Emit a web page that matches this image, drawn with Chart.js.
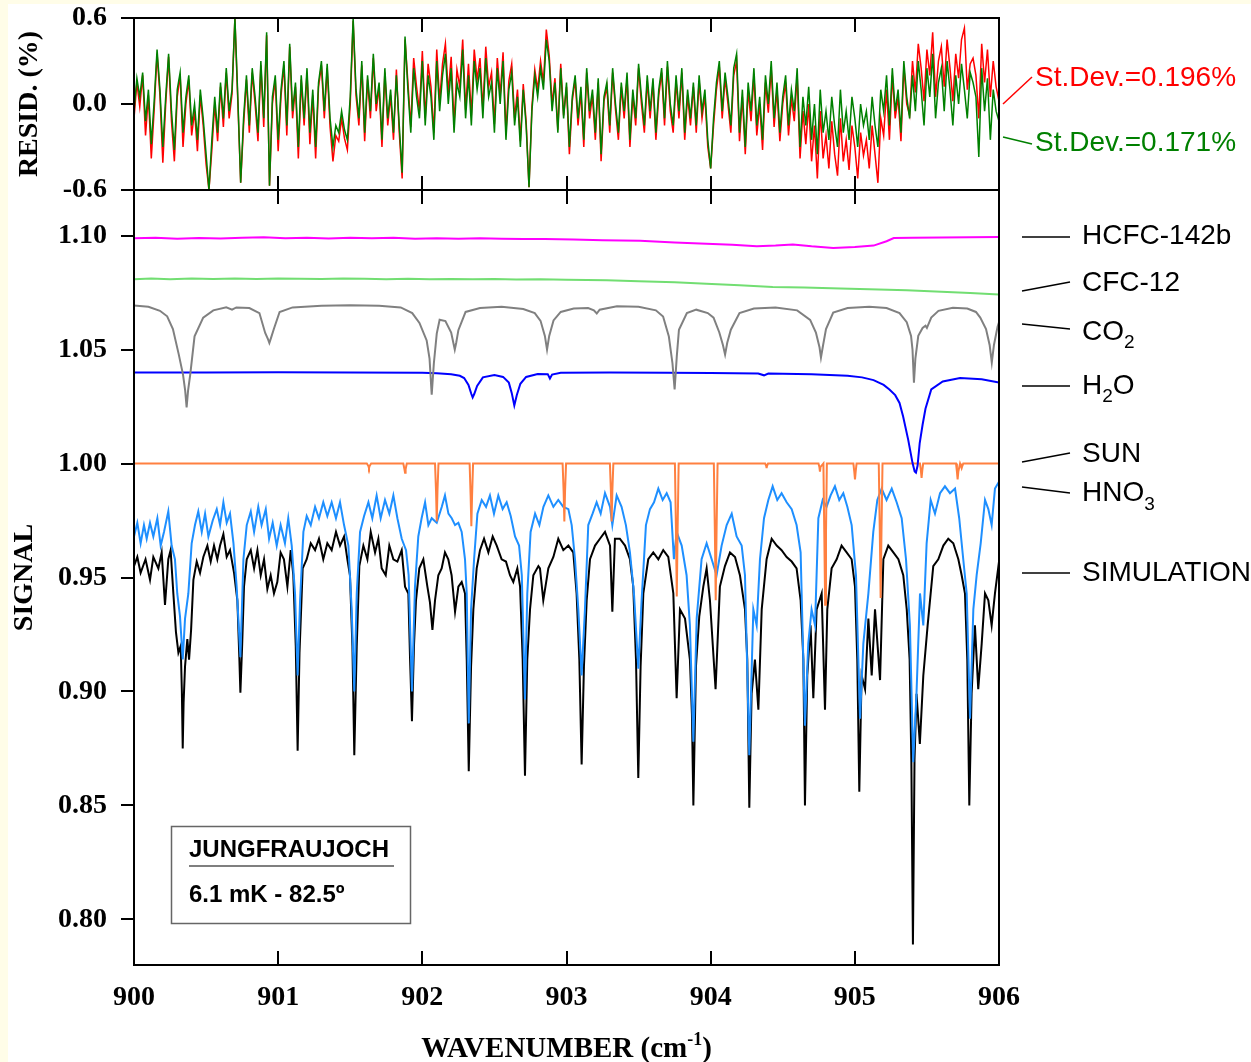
<!DOCTYPE html>
<html lang="en">
<head>
<meta charset="UTF-8">
<title>Jungfraujoch spectral fit 900-906 cm-1</title>
<script src="https://cdn.jsdelivr.net/npm/chart.js"></script>
<style>
  html, body { margin: 0; padding: 0; background: #fffde8; }
  #page { position: relative; width: 1251px; height: 1062px; overflow: hidden; }
  #sheet { position: absolute; left: 8px; top: 4px; right: 0; bottom: 0; background: #fff; }
  canvas { position: absolute; left: 0; top: 0; }
</style>
</head>
<body>
<div id="page">
  <div id="sheet"></div>
  <canvas id="sigChart" width="1251" height="1062"></canvas>
  <canvas id="resChart" width="1251" height="1062"></canvas>
</div>
<script>
// axes
const xMin = 900, xMax = 906;
const xTicks = [900, 901, 902, 903, 904, 905, 906];
const residTicks = [-0.6, 0.0, 0.6];
const signalTicks = [0.80, 0.85, 0.90, 0.95, 1.00, 1.05, 1.10];

// residuals (%), one value every 0.02 cm-1 starting at 900
const residStart = 900, residStep = 0.02;
const residRed = [
  -0.10, 0.15, -0.02, 0.20, -0.22, 0.06, -0.38, -0.04, 0.35, 0.06, -0.41, 0.00, 0.33, -0.12, -0.40,
  0.05, 0.20, -0.30, 0.00, 0.17, -0.22, -0.05, -0.33, 0.06, -0.15, -0.42, -0.60, -0.32, 0.00, -0.26,
  0.12, -0.16, 0.22, -0.10, 0.07, 0.60, 0.02, -0.55, -0.15, 0.17, -0.20, 0.22, 0.00, -0.26, 0.27,
  -0.16, 0.48, -0.57, 0.00, 0.17, -0.33, 0.06, 0.27, -0.22, 0.40, -0.10, 0.12, -0.38, 0.17, -0.15,
  0.22, -0.28, 0.06, -0.38, 0.12, 0.27, -0.10, 0.25, -0.16, -0.40, -0.22, -0.26, -0.10, -0.24, -0.32,
  0.00, 0.58, 0.06, -0.15, 0.27, -0.26, 0.17, -0.10, 0.32, -0.05, 0.12, -0.30, 0.22, -0.15, 0.06,
  -0.25, 0.24, -0.20, -0.52, 0.45, 0.15, -0.16, 0.32, 0.12, -0.05, 0.37, -0.10, 0.28, 0.12, -0.20,
  0.38, 0.02, 0.28, 0.42, 0.08, 0.33, -0.14, 0.24, 0.12, 0.45, -0.04, 0.28, -0.08, 0.38, 0.17,
  0.32, -0.04, 0.40, 0.12, 0.22, -0.14, 0.32, 0.06, 0.36, -0.20, 0.16, 0.28, -0.10, 0.10, -0.26,
  0.14, -0.12, -0.58, -0.02, 0.24, 0.10, 0.30, 0.15, 0.52, 0.34, 0.00, 0.18, -0.18, 0.28, -0.08,
  0.12, -0.35, 0.02, 0.17, -0.15, 0.08, -0.30, 0.22, -0.10, 0.06, -0.25, 0.15, -0.40, 0.02, 0.12,
  -0.20, 0.22, -0.04, -0.25, 0.12, -0.10, 0.18, -0.30, 0.06, -0.15, 0.25, 0.00, -0.20, 0.16, -0.10,
  0.15, -0.25, 0.06, 0.22, -0.15, 0.26, -0.05, -0.20, 0.16, -0.10, 0.22, -0.25, 0.06, -0.15, 0.12,
  -0.20, 0.16, -0.10, 0.06, -0.30, -0.45, -0.15, 0.10, 0.26, -0.10, 0.18, 0.00, -0.20, 0.20, 0.30,
  -0.26, 0.05, -0.35, 0.10, -0.12, 0.20, -0.22, 0.00, -0.32, 0.15, -0.06, 0.25, -0.16, 0.10, -0.26,
  0.00, 0.15, -0.22, 0.04, -0.12, 0.20, -0.38, -0.05, -0.28, 0.00, -0.40, -0.15, -0.52, -0.05, -0.38,
  -0.22, -0.45, -0.12, -0.35, -0.50, -0.10, -0.40, -0.25, -0.46, -0.15, -0.30, -0.52, -0.20, -0.36, -0.25,
  -0.45, -0.15, -0.35, -0.55, -0.10, -0.22, 0.10, -0.25, 0.20, -0.10, 0.05, -0.26, 0.26, 0.00, -0.08,
  0.30, 0.08, 0.42, 0.25, 0.02, 0.38, 0.20, 0.50, 0.05, 0.30, 0.40, 0.12, 0.45, 0.25, 0.02,
  0.35, 0.18, 0.45, 0.53, 0.10, 0.28, 0.32, 0.20, -0.10, 0.42, 0.15, 0.38, 0.05, 0.30, 0.12, 0.02
];
const residGreen = [
  -0.05, 0.18, 0.05, 0.22, -0.12, 0.10, -0.28, 0.02, 0.38, 0.10, -0.30, 0.05, 0.35, -0.05, -0.32,
  0.10, 0.22, -0.20, 0.05, 0.20, -0.15, 0.00, -0.25, 0.10, -0.10, -0.35, -0.60, -0.25, 0.05, -0.20,
  0.15, -0.10, 0.25, -0.05, 0.10, 0.60, 0.05, -0.55, -0.10, 0.20, -0.15, 0.25, 0.05, -0.20, 0.30,
  -0.10, 0.50, -0.57, 0.05, 0.20, -0.25, 0.10, 0.30, -0.15, 0.42, -0.05, 0.15, -0.30, 0.20, -0.10,
  0.25, -0.20, 0.10, -0.30, 0.15, 0.30, -0.05, 0.28, -0.10, -0.30, -0.15, -0.20, -0.05, -0.18, -0.25,
  0.05, 0.60, 0.10, -0.10, 0.30, -0.20, 0.20, -0.05, 0.35, 0.00, 0.15, -0.25, 0.25, -0.10, 0.10,
  -0.20, 0.20, -0.15, -0.48, 0.47, 0.10, -0.20, 0.25, 0.05, -0.10, 0.30, -0.15, 0.20, 0.05, -0.25,
  0.30, -0.05, 0.20, 0.35, 0.00, 0.25, -0.20, 0.15, 0.05, 0.38, -0.10, 0.20, -0.15, 0.30, 0.10,
  0.25, -0.10, 0.32, 0.05, 0.15, -0.20, 0.25, 0.00, 0.30, -0.25, 0.10, 0.22, -0.15, 0.05, -0.30,
  0.10, -0.15, -0.58, -0.05, 0.20, 0.05, 0.25, 0.10, 0.45, 0.30, -0.05, 0.15, -0.20, 0.25, -0.10,
  0.15, -0.30, 0.05, 0.20, -0.10, 0.12, -0.25, 0.25, -0.05, 0.10, -0.20, 0.18, -0.35, 0.05, 0.15,
  -0.15, 0.25, 0.00, -0.20, 0.15, -0.05, 0.22, -0.25, 0.10, -0.10, 0.28, 0.05, -0.15, 0.20, -0.05,
  0.18, -0.20, 0.10, 0.25, -0.10, 0.30, 0.00, -0.15, 0.20, -0.05, 0.25, -0.20, 0.10, -0.10, 0.15,
  -0.15, 0.20, -0.05, 0.10, -0.25, -0.45, -0.10, 0.15, 0.30, -0.05, 0.22, 0.05, -0.15, 0.25, 0.35,
  -0.20, 0.10, -0.30, 0.15, -0.05, 0.25, -0.15, 0.05, -0.25, 0.20, 0.00, 0.30, -0.10, 0.15, -0.20,
  0.05, 0.20, -0.15, 0.10, -0.05, 0.25, -0.30, 0.05, -0.15, 0.12, -0.25, 0.00, -0.35, 0.10, -0.20,
  -0.05, -0.25, 0.05, -0.15, -0.30, 0.10, -0.20, -0.05, -0.25, 0.05, -0.10, -0.30, 0.00, -0.15, -0.05,
  -0.25, 0.05, -0.15, -0.30, 0.10, -0.05, 0.20, -0.15, 0.25, -0.05, 0.10, -0.20, 0.30, 0.05, -0.10,
  0.20, -0.05, 0.30, 0.10, -0.15, 0.25, 0.05, 0.35, -0.10, 0.15, 0.25, -0.05, 0.30, 0.10, -0.15,
  0.20, 0.00, 0.28, 0.10, -0.10, 0.22, 0.15, 0.05, -0.37, 0.25, -0.05, 0.18, -0.25, 0.10, -0.05, -0.12
];

// model components, [wavenumber, signal]
const hcfc142b = [
  [900.00,1.0988],[900.15,1.0990],[900.30,1.0986],[900.45,1.0989],[900.60,1.0987],[900.75,1.0990],
  [900.90,1.0993],[901.05,1.0988],[901.20,1.0990],[901.35,1.0987],[901.50,1.0990],[901.65,1.0988],
  [901.80,1.0990],[901.95,1.0986],[902.10,1.0988],[902.25,1.0986],[902.40,1.0988],[902.55,1.0986],
  [902.70,1.0985],[902.85,1.0985],[903.05,1.0983],[903.25,1.0980],[903.51,1.0977],[903.75,1.0970],
  [903.97,1.0964],[904.15,1.0960],[904.32,1.0953],[904.45,1.0956],[904.57,1.0961],[904.70,1.0953],
  [904.85,1.0946],[905.00,1.0950],[905.13,1.0956],[905.22,1.0975],[905.27,1.0989],[905.40,1.0991],
  [905.60,1.0992],[905.80,1.0993],[906.00,1.0994]
];
const cfc12 = [
  [900.00,1.0808],[900.12,1.0812],[900.25,1.0809],[900.40,1.0812],[900.55,1.0810],[900.70,1.0812],
  [900.85,1.0810],[901.00,1.0812],[901.15,1.0811],[901.30,1.0810],[901.45,1.0812],[901.60,1.0811],
  [901.75,1.0809],[901.90,1.0811],[902.05,1.0808],[902.20,1.0810],[902.35,1.0808],[902.50,1.0809],
  [902.65,1.0807],[902.82,1.0808],[903.00,1.0806],[903.28,1.0804],[903.50,1.0800],[903.75,1.0795],
  [903.97,1.0789],[904.20,1.0782],[904.43,1.0774],[904.65,1.0772],[904.90,1.0768],[905.10,1.0765],
  [905.36,1.0760],[905.60,1.0754],[905.80,1.0748],[906.00,1.0741]
];
const co2 = [
  [900.00,1.0693],[900.10,1.0688],[900.18,1.0670],[900.23,1.0646],[900.27,1.0590],[900.31,1.0480],
  [900.34,1.0390],[900.355,1.0320],[900.365,1.0246],[900.375,1.0320],[900.39,1.0390],[900.42,1.0558],
  [900.48,1.0640],[900.55,1.0672],[900.64,1.0685],[900.68,1.0675],[900.71,1.0685],[900.80,1.0682],
  [900.87,1.0660],[900.91,1.0573],[900.93,1.0545],[900.939,1.0529],[900.95,1.0550],[900.97,1.0590],
  [901.01,1.0665],[901.10,1.0685],[901.30,1.0692],[901.50,1.0694],[901.70,1.0692],[901.85,1.0685],
  [901.93,1.0660],[901.98,1.0617],[902.03,1.0540],[902.05,1.0460],[902.065,1.0302],[902.08,1.0440],
  [902.10,1.0570],[902.12,1.0631],[902.16,1.0625],[902.20,1.0575],[902.215,1.0530],[902.225,1.0500],
  [902.235,1.0530],[902.25,1.0585],[902.30,1.0665],[902.40,1.0682],[902.55,1.0688],[902.70,1.0678],
  [902.78,1.0660],[902.82,1.0626],[902.85,1.0560],[902.865,1.0500],[902.88,1.0560],[902.91,1.0628],
  [902.96,1.0665],[903.05,1.0680],[903.15,1.0682],[903.19,1.0672],[903.21,1.0658],[903.23,1.0675],
  [903.35,1.0690],[903.50,1.0688],[903.62,1.0672],[903.67,1.0645],[903.71,1.0557],[903.735,1.0440],
  [903.75,1.0325],[903.765,1.0470],[903.78,1.0587],[903.835,1.0660],[903.90,1.0675],[903.98,1.0660],
  [904.02,1.0640],[904.06,1.0575],[904.085,1.0520],[904.10,1.0478],[904.115,1.0530],[904.14,1.0587],
  [904.20,1.0660],[904.30,1.0680],[904.45,1.0684],[904.60,1.0672],[904.69,1.0630],[904.73,1.0575],
  [904.755,1.0510],[904.765,1.0465],[904.78,1.0520],[904.80,1.0590],[904.85,1.0662],[904.95,1.0682],
  [905.10,1.0688],[905.22,1.0682],[905.31,1.0660],[905.36,1.0620],[905.39,1.0560],[905.40,1.0500],
  [905.41,1.0355],[905.42,1.0460],[905.44,1.0560],[905.47,1.0595],[905.49,1.0605],[905.50,1.0595],
  [905.53,1.0640],[905.58,1.0670],[905.68,1.0683],[905.78,1.0680],[905.84,1.0665],[905.87,1.0640],
  [905.91,1.0590],[905.935,1.0520],[905.95,1.0443],[905.965,1.0520],[905.99,1.0600],[906.00,1.0620]
];
const h2o = [
  [900.00,1.0399],[900.50,1.0399],[901.00,1.0400],[901.50,1.0399],[902.00,1.0398],[902.10,1.0396],
  [902.20,1.0392],[902.26,1.0385],[902.29,1.0375],[902.32,1.0345],[902.34,1.0305],[902.349,1.0290],
  [902.36,1.0305],[902.38,1.0340],[902.42,1.0378],[902.50,1.0388],[902.56,1.0380],[902.60,1.0355],
  [902.62,1.0310],[902.638,1.0255],[902.655,1.0300],[902.68,1.0350],[902.72,1.0380],[902.80,1.0393],
  [902.87,1.0392],[902.885,1.0373],[902.90,1.0390],[902.96,1.0398],[903.30,1.0399],[903.70,1.0398],
  [904.00,1.0397],[904.33,1.0395],[904.37,1.0387],[904.40,1.0395],[904.70,1.0392],[904.95,1.0385],
  [905.05,1.0378],[905.13,1.0366],[905.20,1.0345],[905.24,1.0325],[905.28,1.0300],[905.31,1.0266],
  [905.335,1.0206],[905.37,1.0105],[905.40,1.0003],[905.415,0.9965],[905.424,0.9960],[905.435,0.9990],
  [905.45,1.0090],[905.47,1.0170],[905.49,1.0240],[905.53,1.0325],[905.61,1.0360],[905.73,1.0375],
  [905.88,1.0370],[906.00,1.0355]
];
const sun = [
  [900.00,1.0000],[901.615,1.0000],[901.625,0.9990],[901.63,0.9980],[901.635,0.9990],[901.645,1.0000],
  [901.868,1.0000],[901.876,0.9975],[901.88,0.9960],[901.884,0.9975],[901.892,1.0000],
  [902.088,1.0000],[902.095,0.9880],[902.10,0.9746],[902.105,0.9880],[902.112,1.0000],
  [902.328,1.0000],[902.335,0.9860],[902.34,0.9725],[902.345,0.9860],[902.352,1.0000],
  [902.973,1.0000],[902.98,0.9880],[902.985,0.9746],[902.99,0.9880],[902.997,1.0000],
  [903.301,1.0000],[903.308,0.9880],[903.313,0.9746],[903.318,0.9880],[903.325,1.0000],
  [903.752,1.0000],[903.759,0.9720],[903.765,0.9417],[903.771,0.9720],[903.778,1.0000],
  [904.022,1.0000],[904.029,0.9710],[904.035,0.9400],[904.041,0.9710],[904.048,1.0000],
  [904.378,1.0000],[904.385,0.9990],[904.388,0.9980],[904.391,0.9990],[904.398,1.0000],
  [904.748,1.0000],[904.754,0.9985],[904.758,0.9965],[904.762,0.9985],[904.782,1.0000],
  [904.788,0.9700],[904.794,0.9380],[904.800,0.9700],[904.806,1.0000],
  [904.990,1.0000],[904.996,0.9965],[905.001,0.9930],[905.006,0.9965],[905.012,1.0000],
  [905.166,1.0000],[905.173,0.9710],[905.179,0.9410],[905.185,0.9710],[905.192,1.0000],
  [905.452,1.0000],[905.458,0.9970],[905.463,0.9937],[905.468,0.9970],[905.474,1.0000],
  [905.702,1.0000],[905.708,0.9965],[905.713,0.9930],[905.718,0.9965],[905.730,1.0000],
  [905.736,0.9990],[905.741,0.9980],[905.746,0.9990],[905.752,1.0000],[906.00,1.0000]
];
const hno3 = [
  [900.00,0.968],[900.023,0.974],[900.046,0.965],[900.069,0.973],[900.088,0.967],[900.111,0.974],
  [900.134,0.968],[900.162,0.976],[900.185,0.964],[900.208,0.970],[900.238,0.979],[900.261,0.964],
  [900.284,0.958],[900.30,0.943],[900.319,0.933],[900.338,0.914],[900.354,0.932],[900.377,0.943],
  [900.40,0.965],[900.423,0.973],[900.446,0.979],[900.47,0.970],[900.493,0.978],[900.516,0.968],
  [900.546,0.975],[900.574,0.980],[900.597,0.973],[900.62,0.983],[900.643,0.974],[900.666,0.978],
  [900.69,0.965],[900.712,0.946],[900.738,0.915],[900.759,0.958],[900.782,0.973],[900.81,0.979],
  [900.833,0.970],[900.862,0.981],[900.885,0.973],[900.914,0.980],[900.937,0.967],[900.962,0.974],
  [900.99,0.964],[901.017,0.973],[901.047,0.965],[901.07,0.976],[901.094,0.964],[901.117,0.943],
  [901.135,0.907],[901.152,0.940],[901.175,0.970],[901.198,0.977],[901.226,0.973],[901.256,0.981],
  [901.283,0.976],[901.313,0.983],[901.341,0.977],[901.371,0.983],[901.401,0.976],[901.429,0.983],
  [901.457,0.973],[901.487,0.964],[901.51,0.936],[901.528,0.900],[901.545,0.943],[901.568,0.970],
  [901.596,0.977],[901.626,0.983],[901.653,0.976],[901.683,0.986],[901.711,0.976],[901.741,0.984],
  [901.771,0.978],[901.799,0.986],[901.827,0.976],[901.857,0.967],[901.887,0.962],[901.905,0.951],
  [901.928,0.900],[901.949,0.946],[901.972,0.968],[901.995,0.976],[902.019,0.983],[902.042,0.973],
  [902.065,0.976],[902.10,0.974],[902.135,0.981],[902.157,0.986],[902.181,0.978],[902.204,0.976],
  [902.227,0.973],[902.25,0.974],[902.273,0.970],[902.296,0.958],[902.308,0.943],[902.322,0.886],
  [902.338,0.936],[902.359,0.958],[902.382,0.978],[902.412,0.984],[902.442,0.981],[902.469,0.986],
  [902.497,0.978],[902.527,0.986],[902.557,0.980],[902.585,0.983],[902.613,0.977],[902.643,0.968],
  [902.671,0.964],[902.69,0.951],[902.712,0.8965],[902.728,0.943],[902.751,0.970],[902.782,0.978],
  [902.812,0.973],[902.84,0.981],[902.874,0.986],[902.909,0.981],[902.943,0.984],[902.978,0.981],
  [903.013,0.980],[903.036,0.973],[903.059,0.958],[903.082,0.936],[903.105,0.907],[903.128,0.936],
  [903.151,0.973],[903.181,0.978],[903.209,0.983],[903.237,0.978],[903.267,0.987],[903.302,0.981],
  [903.318,0.973],[903.348,0.986],[903.382,0.981],[903.412,0.973],[903.44,0.961],[903.468,0.943],
  [903.498,0.910],[903.521,0.940],[903.551,0.973],[903.579,0.980],[903.607,0.983],[903.637,0.989],
  [903.667,0.984],[903.695,0.987],[903.722,0.983],[903.745,0.958],[903.764,0.970],[903.799,0.964],
  [903.833,0.951],[903.856,0.929],[903.880,0.878],[903.903,0.932],[903.937,0.958],[903.972,0.965],
  [904.007,0.958],[904.041,0.951],[904.076,0.964],[904.111,0.973],[904.146,0.978],[904.18,0.968],
  [904.215,0.964],[904.238,0.951],[904.268,0.872],[904.296,0.936],[904.319,0.929],[904.342,0.958],
  [904.37,0.976],[904.40,0.984],[904.43,0.990],[904.462,0.984],[904.492,0.987],[904.527,0.983],
  [904.562,0.980],[904.596,0.973],[904.624,0.961],[904.654,0.885],[904.677,0.921],[904.70,0.936],
  [904.724,0.929],[904.747,0.976],[904.777,0.984],[904.804,0.981],[904.832,0.986],[904.862,0.990],
  [904.892,0.984],[904.92,0.987],[904.948,0.981],[904.978,0.973],[905.008,0.951],[905.036,0.888],
  [905.059,0.921],[905.094,0.943],[905.128,0.970],[905.156,0.984],[905.186,0.989],[905.22,0.984],
  [905.256,0.989],[905.29,0.983],[905.325,0.976],[905.355,0.958],[905.382,0.929],[905.405,0.869],
  [905.428,0.8995],[905.452,0.943],[905.475,0.929],[905.498,0.965],[905.526,0.984],[905.556,0.978],
  [905.591,0.987],[905.625,0.990],[905.66,0.987],[905.695,0.989],[905.724,0.976],[905.752,0.958],
  [905.776,0.943],[905.799,0.888],[905.822,0.936],[905.845,0.951],[905.873,0.965],[905.903,0.984],
  [905.926,0.980],[905.949,0.973],[905.972,0.989],[906.00,0.992]
];
const simulation = [
  [900.00,0.955],[900.023,0.959],[900.046,0.952],[900.08,0.958],[900.111,0.949],[900.134,0.959],
  [900.169,0.954],[900.192,0.961],[900.215,0.938],[900.238,0.958],[900.254,0.962],[900.273,0.943],
  [900.291,0.926],[900.308,0.917],[900.324,0.920],[900.332,0.900],[900.338,0.875],[900.344,0.895],
  [900.354,0.911],[900.37,0.923],[900.382,0.914],[900.396,0.927],[900.412,0.949],[900.435,0.957],
  [900.458,0.952],[900.481,0.959],[900.509,0.964],[900.532,0.957],[900.555,0.964],[900.578,0.958],
  [900.597,0.964],[900.62,0.969],[900.643,0.959],[900.666,0.962],[900.694,0.952],[900.717,0.940],
  [900.731,0.914],[900.738,0.8995],[900.75,0.920],[900.763,0.946],[900.782,0.958],[900.81,0.962],
  [900.833,0.954],[900.856,0.962],[900.879,0.951],[900.902,0.958],[900.925,0.945],[900.948,0.951],
  [900.971,0.943],[900.994,0.948],[901.017,0.961],[901.04,0.958],[901.064,0.946],[901.087,0.962],
  [901.105,0.951],[901.122,0.920],[901.135,0.874],[901.148,0.917],[901.17,0.954],[901.198,0.958],
  [901.226,0.965],[901.256,0.962],[901.283,0.967],[901.313,0.958],[901.341,0.965],[901.371,0.962],
  [901.401,0.970],[901.429,0.964],[901.457,0.968],[901.48,0.958],[901.498,0.951],[901.515,0.920],
  [901.528,0.872],[901.545,0.920],[901.563,0.955],[901.591,0.964],[901.619,0.958],[901.642,0.970],
  [901.672,0.961],[901.695,0.967],[901.718,0.954],[901.746,0.951],[901.771,0.964],[901.799,0.958],
  [901.827,0.957],[901.857,0.962],[901.88,0.946],[901.903,0.943],[901.915,0.914],[901.928,0.887],
  [901.942,0.920],[901.956,0.940],[901.979,0.954],[902.007,0.958],[902.035,0.946],[902.053,0.939],
  [902.07,0.927],[902.088,0.940],[902.111,0.951],[902.134,0.954],[902.157,0.961],[902.18,0.958],
  [902.203,0.951],[902.227,0.935],[902.25,0.946],[902.273,0.948],[902.296,0.943],[902.308,0.914],
  [902.322,0.865],[902.338,0.911],[902.354,0.936],[902.377,0.954],[902.40,0.962],[902.428,0.967],
  [902.458,0.961],[902.488,0.968],[902.516,0.964],[902.55,0.958],[902.58,0.957],[902.608,0.951],
  [902.631,0.948],[902.659,0.954],[902.678,0.946],[902.696,0.914],[902.712,0.863],[902.728,0.914],
  [902.747,0.936],[902.77,0.951],[902.805,0.955],[902.816,0.954],[902.839,0.940],[902.874,0.954],
  [902.909,0.959],[902.943,0.967],[902.978,0.962],[903.013,0.964],[903.047,0.961],[903.07,0.943],
  [903.089,0.914],[903.105,0.868],[903.121,0.911],[903.14,0.940],[903.163,0.958],[903.198,0.964],
  [903.232,0.967],[903.267,0.970],[903.302,0.964],[903.318,0.935],[903.336,0.967],[903.37,0.967],
  [903.406,0.964],[903.44,0.958],[903.463,0.946],[903.482,0.914],[903.498,0.862],[903.514,0.911],
  [903.533,0.943],[903.567,0.958],[903.602,0.961],[903.637,0.958],[903.671,0.962],[903.706,0.959],
  [903.741,0.943],[903.764,0.897],[903.787,0.936],[903.822,0.932],[903.856,0.914],[903.87,0.890],
  [903.88,0.850],[903.898,0.911],[903.921,0.933],[903.949,0.946],[903.972,0.954],[903.995,0.940],
  [904.034,0.901],[904.064,0.946],[904.099,0.955],[904.134,0.961],[904.169,0.959],[904.203,0.951],
  [904.238,0.936],[904.254,0.914],[904.268,0.849],[904.284,0.899],[904.307,0.914],[904.331,0.892],
  [904.354,0.936],[904.388,0.958],[904.423,0.967],[904.458,0.964],[904.492,0.962],[904.527,0.959],
  [904.562,0.957],[904.596,0.954],[904.624,0.940],[904.643,0.914],[904.654,0.850],[904.67,0.907],
  [904.693,0.929],[904.712,0.897],[904.735,0.936],[904.77,0.943],[904.793,0.892],[904.809,0.936],
  [904.839,0.954],[904.874,0.958],[904.908,0.964],[904.943,0.961],[904.978,0.958],[905.001,0.946],
  [905.017,0.914],[905.031,0.856],[905.047,0.907],[905.071,0.901],[905.094,0.932],[905.117,0.907],
  [905.14,0.936],[905.175,0.905],[905.198,0.958],[905.232,0.964],[905.267,0.961],[905.302,0.958],
  [905.336,0.951],[905.36,0.936],[905.38,0.914],[905.392,0.870],[905.403,0.789],[905.414,0.870],
  [905.428,0.899],[905.451,0.877],[905.475,0.907],[905.505,0.929],[905.544,0.955],[905.579,0.958],
  [905.614,0.964],[905.648,0.967],[905.683,0.965],[905.718,0.958],[905.741,0.951],[905.764,0.943],
  [905.78,0.914],[905.794,0.850],[905.81,0.899],[905.833,0.929],[905.856,0.901],[905.88,0.921],
  [905.903,0.943],[905.926,0.940],[905.949,0.929],[905.972,0.943],[906.00,0.957]
];

const SERIF = '"Liberation Serif", "Times New Roman", serif';
const SANS = '"Liberation Sans", Arial, sans-serif';

const toXY = pts => pts.map(p => ({ x: p[0], y: p[1] }));
const residXY = vals => vals.map((v, i) => ({ x: residStart + i * residStep, y: v }));

function series(label, data, color, order, width) {
  return { label, data, borderColor: color, borderWidth: width || 2, pointRadius: 0,
           tension: 0, fill: false, order };
}

// text made of pieces; each piece is [text, dy] with dy != 0 for sub/superscripts
function richText(ctx, parts, x, y, base, small, centered) {
  const widths = parts.map(([t, dy]) => { ctx.font = dy ? small : base; return ctx.measureText(t).width; });
  const total = widths.reduce((a, b) => a + b, 0);
  let cx = centered ? x - total / 2 : x;
  parts.forEach(([t, dy], i) => {
    ctx.font = dy ? small : base;
    ctx.fillText(t, cx, y + dy);
    cx += widths[i];
  });
}

function segment(ctx, a, b) {
  ctx.beginPath();
  ctx.moveTo(a[0], a[1]);
  ctx.lineTo(b[0], b[1]);
  ctx.stroke();
}

// box round the plot area plus the inward ticks on top and bottom
function drawFrame(chart) {
  const { ctx, chartArea: a } = chart;
  const xs = chart.scales.x;
  ctx.save();
  ctx.strokeStyle = '#000';
  ctx.lineWidth = 2;
  ctx.strokeRect(a.left, a.top, a.right - a.left, a.bottom - a.top);
  ctx.beginPath();
  xTicks.forEach(v => {
    if (v <= xMin || v >= xMax) return;
    const px = Math.round(xs.getPixelForValue(v));
    ctx.moveTo(px, a.top); ctx.lineTo(px, a.top + 14);
    ctx.moveTo(px, a.bottom); ctx.lineTo(px, a.bottom - 14);
  });
  ctx.stroke();
  ctx.restore();
}

// y axes keep a fixed width and do not push the plot area around
function fixYAxis(s) {
  s.width = 134;
  s.paddingTop = 0;
  s.paddingBottom = 0;
}

const residDecor = {
  id: 'residDecor',
  afterDraw(chart) {
    drawFrame(chart);
    const ctx = chart.ctx;
    ctx.save();
    ctx.lineWidth = 1.5;
    ctx.textBaseline = 'middle';
    ctx.textAlign = 'left';
    ctx.font = '28px ' + SANS;
    ctx.strokeStyle = '#ff0000';
    ctx.fillStyle = '#ff0000';
    segment(ctx, [1003, 104], [1032, 77]);
    ctx.fillText('St.Dev.=0.196%', 1035, 78);
    ctx.strokeStyle = '#008000';
    ctx.fillStyle = '#008000';
    segment(ctx, [1003, 137], [1032, 144]);
    ctx.fillText('St.Dev.=0.171%', 1035, 143);
    ctx.restore();
  }
};

const legendItems = [
  { parts: [['HCFC-142b', 0]], y: 236, from: [1022, 237], to: [1070, 237] },
  { parts: [['CFC-12', 0]], y: 283, from: [1022, 291], to: [1070, 282] },
  { parts: [['CO', 0], ['2', 11]], y: 332, from: [1022, 324], to: [1070, 329] },
  { parts: [['H', 0], ['2', 11], ['O', 0]], y: 386, from: [1022, 386], to: [1070, 386] },
  { parts: [['SUN', 0]], y: 454, from: [1022, 462], to: [1070, 453] },
  { parts: [['HNO', 0], ['3', 12]], y: 493, from: [1022, 487], to: [1070, 493] },
  { parts: [['SIMULATION', 0]], y: 573, from: [1022, 573], to: [1070, 573] }
];

const signalDecor = {
  id: 'signalDecor',
  afterDraw(chart) {
    drawFrame(chart);
    const ctx = chart.ctx;
    ctx.save();
    // labels of the components
    ctx.strokeStyle = '#000';
    ctx.fillStyle = '#000';
    ctx.lineWidth = 1.5;
    ctx.textBaseline = 'middle';
    ctx.textAlign = 'left';
    legendItems.forEach(it => {
      segment(ctx, it.from, it.to);
      richText(ctx, it.parts, 1082, it.y, '28px ' + SANS, '19px ' + SANS, false);
    });
    // station box
    ctx.strokeStyle = '#666';
    ctx.strokeRect(171.5, 826.5, 239, 97);
    ctx.strokeStyle = '#555';
    segment(ctx, [189, 866], [394, 866]);
    ctx.font = 'bold 24px ' + SANS;
    ctx.fillText('JUNGFRAUJOCH', 189, 850);
    ctx.fillText('6.1 mK - 82.5º', 189, 895);
    // x axis title with superscript
    ctx.textBaseline = 'alphabetic';
    const xs = chart.scales.x;
    const cx = (xs.left + xs.right) / 2;
    richText(ctx, [['WAVENUMBER (cm', 0], ['-1', -12], [')', 0]], cx, 1057,
             'bold 29px ' + SERIF, 'bold 18px ' + SERIF, true);
    ctx.restore();
  }
};

const tickFont = { family: SERIF, size: 28, weight: 'bold' };

new Chart(document.getElementById('sigChart'), {
  type: 'line',
  data: {
    datasets: [
      series('HCFC-142b', toXY(hcfc142b), '#ff00ff', 1),
      series('CFC-12', toXY(cfc12), '#72de72', 2),
      series('CO2', toXY(co2), '#808080', 3),
      series('H2O', toXY(h2o), '#0000ff', 4),
      series('SUN', toXY(sun), '#ff8040', 5),
      series('HNO3', toXY(hno3), '#1e8fff', 6),
      series('SIMULATION', toXY(simulation), '#000000', 7)
    ]
  },
  options: {
    responsive: false,
    animation: false,
    events: [],
    layout: { autoPadding: false, padding: { left: 0, right: 252, top: 190, bottom: 0 } },
    plugins: { legend: { display: false }, tooltip: { enabled: false } },
    scales: {
      x: {
        type: 'linear', min: xMin, max: xMax,
        afterBuildTicks: s => { s.ticks = xTicks.map(v => ({ value: v })); },
        afterFit: s => { s.height = 97; s.paddingLeft = 0; s.paddingRight = 0; },
        ticks: { autoSkip: false, maxRotation: 0, padding: 16, color: '#000', font: tickFont,
                 callback: v => String(v) },
        grid: { display: false, drawTicks: false },
        border: { display: false }
      },
      y: {
        min: 0.78, max: 1.12,
        afterBuildTicks: s => { s.ticks = signalTicks.map(v => ({ value: v })); },
        afterFit: fixYAxis,
        ticks: { padding: 14, color: '#000', font: tickFont, callback: v => v.toFixed(2) },
        grid: { drawOnChartArea: false, tickLength: 13, color: '#000', lineWidth: 2 },
        border: { display: false },
        title: { display: true, text: 'SIGNAL', color: '#000', font: tickFont,
                 padding: { top: 8, bottom: 0 } }
      }
    }
  },
  plugins: [signalDecor]
});

new Chart(document.getElementById('resChart'), {
  type: 'line',
  data: {
    datasets: [
      series('Residual 0.171%', residXY(residGreen), '#008000', 1, 1.5),
      series('Residual 0.196%', residXY(residRed), '#ff0000', 2, 1.5)
    ]
  },
  options: {
    responsive: false,
    animation: false,
    events: [],
    layout: { autoPadding: false, padding: { left: 0, right: 252, top: 18, bottom: 872 } },
    plugins: { legend: { display: false }, tooltip: { enabled: false } },
    scales: {
      x: { type: 'linear', min: xMin, max: xMax, display: false },
      y: {
        min: -0.6, max: 0.6,
        afterBuildTicks: s => { s.ticks = residTicks.map(v => ({ value: v })); },
        afterFit: fixYAxis,
        ticks: { padding: 14, color: '#000', font: tickFont, callback: v => v.toFixed(1) },
        grid: { drawOnChartArea: false, tickLength: 13, color: '#000', lineWidth: 2 },
        border: { display: false },
        title: { display: true, text: 'RESID. (%)', color: '#000', font: tickFont,
                 padding: { top: 13, bottom: 0 } }
      }
    }
  },
  plugins: [residDecor]
});
</script>
</body>
</html>
